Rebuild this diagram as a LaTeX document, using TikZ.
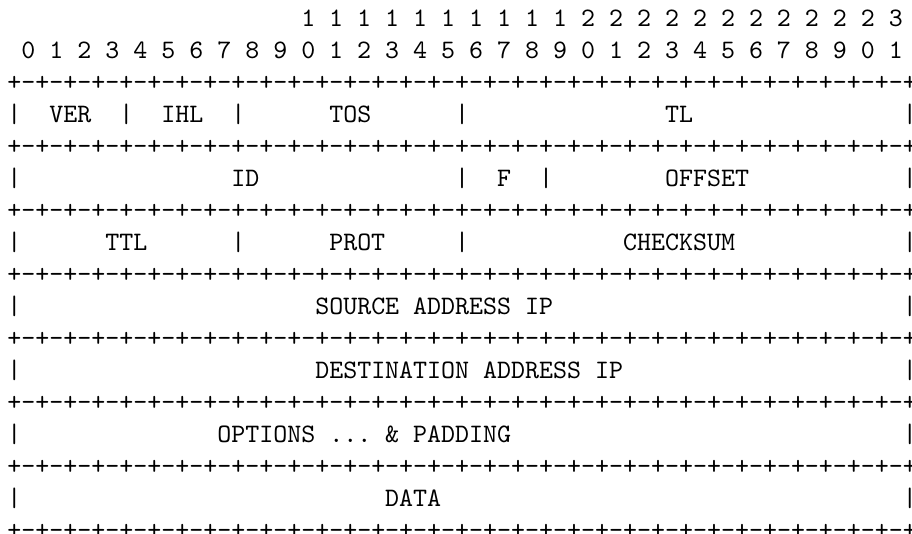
\documentclass[tikz,border=0pt]{standalone}
\newcommand\spc[1]{\kern\dimexpr5.25pt*#1\relax}
\newcommand\gq{+-+-+-+-}
\newcommand\gridline{\gq\gq\gq\gq\gq\gq\gq\gq+}
\tikzset{asciirow/.style={anchor=base west, inner sep=0pt, outer sep=0pt, font=\ttfamily\frenchspacing}}
\begin{document}
\begin{tikzpicture}
\useasboundingbox (-2.8pt,10.1pt) rectangle (339.4pt,-190.2pt);
\node[asciirow] (r0) at (0pt,0pt) {\spc{21}1 1 1 1 1 1 1 1 1 1 2 2 2 2 2 2 2 2 2 2 2 3};
\node[asciirow] (r1) at (0pt,-12pt) {\spc{1}0 1 2 3 4 5 6 7 8 9 0 1 2 3 4 5 6 7 8 9 0 1 2 3 4 5 6 7 8 9 0 1};
\node[asciirow] (r2) at (0pt,-24pt) {\gridline};
\node[asciirow] (r3) at (0pt,-36pt) {|\spc{2}VER\spc{2}|\spc{2}IHL\spc{2}|\spc{6}TOS\spc{6}|\spc{14}TL\spc{15}|};
\node[asciirow] (r4) at (0pt,-48pt) {\gridline};
\node[asciirow] (r5) at (0pt,-60pt) {|\spc{15}ID\spc{14}|\spc{2}F\spc{2}|\spc{8}OFFSET\spc{11}|};
\node[asciirow] (r6) at (0pt,-72pt) {\gridline};
\node[asciirow] (r7) at (0pt,-84pt) {|\spc{6}TTL\spc{6}|\spc{6}PROT\spc{5}|\spc{11}CHECKSUM\spc{12}|};
\node[asciirow] (r8) at (0pt,-96pt) {\gridline};
\node[asciirow] (r9) at (0pt,-108pt) {|\spc{21}SOURCE\spc{1}ADDRESS\spc{1}IP\spc{25}|};
\node[asciirow] (r10) at (0pt,-120pt) {\gridline};
\node[asciirow] (r11) at (0pt,-132pt) {|\spc{21}DESTINATION\spc{1}ADDRESS\spc{1}IP\spc{20}|};
\node[asciirow] (r12) at (0pt,-144pt) {\gridline};
\node[asciirow] (r13) at (0pt,-156pt) {|\spc{14}OPTIONS\spc{1}...\spc{1}\&\spc{1}PADDING\spc{28}|};
\node[asciirow] (r14) at (0pt,-168pt) {\gridline};
\node[asciirow] (r15) at (0pt,-180pt) {|\spc{26}DATA\spc{33}|};
\node[asciirow] (r16) at (0pt,-192pt) {\gridline};
\end{tikzpicture}
\end{document}
